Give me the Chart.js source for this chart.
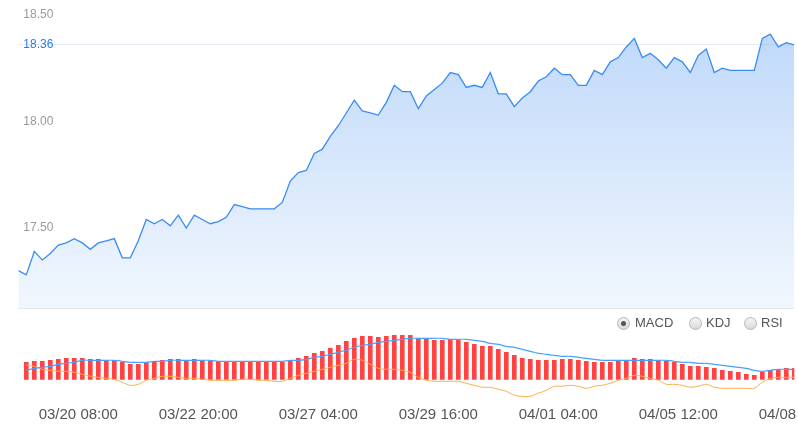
<!DOCTYPE html>
<html>
<head>
<meta charset="utf-8">
<script src="https://cdn.jsdelivr.net/npm/chart.js@4.4.1/dist/chart.umd.min.js"></script>
<style>
  html, body { margin: 0; padding: 0; background: #fff; }
  #wrap { position: relative; width: 798px; height: 428px; overflow: hidden; }
  #kline { position: absolute; left: 0; top: 0; }
  .tab { position: absolute; top: 315px; height: 16px; line-height: 16px; font: 13px 'Liberation Sans', Arial, sans-serif; color: #555; }
  .dot { position: absolute; top: 316.5px; width: 11px; height: 11px; border: 1px solid #b4b4b4; border-radius: 50%; background: linear-gradient(#f6f6f6, #d9d9d9); }
  .dot.on::after { content: ''; position: absolute; left: 3px; top: 3px; width: 5px; height: 5px; border-radius: 50%; background: #555; }
</style>
</head>
<body>
<div id="wrap">
  <canvas id="kline" width="798" height="428"></canvas>
  <span class="dot on" style="left:617px"></span><span class="tab" style="left:635px">MACD</span>
  <span class="dot" style="left:689px"></span><span class="tab" style="left:706px">KDJ</span>
  <span class="dot" style="left:744px"></span><span class="tab" style="left:761px">RSI</span>
</div>
<script>
const xLabels = ['03/20 08:00', '03/22 20:00', '03/27 04:00', '03/29 16:00', '04/01 04:00', '04/05 12:00', '04/08 20:00'];
const xLabelAt = [7.5, 22.5, 37.5, 52.5, 67.5, 82.5, 97.5];

const price = [
  17.30, 17.28, 17.39, 17.35, 17.38, 17.42, 17.43, 17.45, 17.43, 17.40,
  17.43, 17.44, 17.45, 17.36, 17.36, 17.44, 17.54, 17.52, 17.54, 17.51,
  17.56, 17.50, 17.56, 17.54, 17.52, 17.53, 17.55, 17.61, 17.60, 17.59,
  17.59, 17.59, 17.59, 17.62, 17.72, 17.76, 17.77, 17.85, 17.87, 17.93,
  17.98, 18.04, 18.10, 18.05, 18.04, 18.03, 18.09, 18.17, 18.14, 18.14,
  18.06, 18.12, 18.15, 18.18, 18.23, 18.22, 18.16, 18.17, 18.16, 18.23,
  18.13, 18.13, 18.07, 18.11, 18.14, 18.19, 18.21, 18.25, 18.22, 18.22,
  18.17, 18.17, 18.24, 18.22, 18.28, 18.30, 18.35, 18.39, 18.30, 18.32,
  18.29, 18.25, 18.30, 18.28, 18.23, 18.31, 18.34, 18.23, 18.25, 18.24,
  18.24, 18.24, 18.24, 18.39, 18.41, 18.35, 18.37, 18.36
];

// MACD histogram, DIF and DEA (first bar has no value)
const macd = [
  null,
  .017, .018, .018, .019, .020, .021, .021, .021, .020, .020,
  .019, .019, .017, .015, .015, .017, .018, .019, .020, .020,
  .019, .020, .019, .018, .018, .018, .018, .018, .018, .018,
  .018, .017, .017, .019, .021, .023, .026, .028, .031, .034,
  .038, .041, .043, .043, .042, .043, .044, .044, .044, .041,
  .040, .039, .039, .040, .039, .037, .035, .033, .033, .030,
  .027, .024, .021, .020, .019, .019, .019, .020, .020, .019,
  .018, .017, .017, .017, .018, .019, .021, .020, .020, .019,
  .018, .017, .015, .013, .013, .012, .011, .009, .008, .007,
  .005, .004, .007, .009, .010, .011, .011
];
const dif = [
  null,
  .009, .011, .012, .013, .015, .016, .017, .019, .019, .019,
  .019, .019, .018, .017, .017, .017, .018, .018, .019, .019,
  .019, .019, .019, .019, .018, .018, .018, .018, .018, .018,
  .018, .018, .018, .019, .019, .020, .022, .023, .025, .027,
  .029, .032, .034, .035, .037, .038, .039, .040, .041, .041,
  .041, .041, .041, .040, .040, .040, .039, .038, .036, .035,
  .033, .032, .030, .028, .026, .025, .024, .023, .023, .022,
  .021, .020, .019, .019, .019, .019, .019, .019, .019, .019,
  .019, .018, .017, .017, .016, .016, .015, .014, .013, .012,
  .011, .009, .008, .009, .010, .010, .010
];
const dea = [
  null,
  .014, .013, .010, .009, .008, .008, .007, .005, .003, .002,
  .001, .000, -.003, -.006, -.005, -.001, .001, .003, .003, .002,
  .001, .001, .000, -.001, -.001, -.001, -.001, .000, .000, -.001,
  -.001, -.002, -.002, .001, .004, .006, .008, .010, .012, .014,
  .016, .020, .019, .015, .011, .010, .010, .009, .007, .002,
  -.001, -.002, -.002, -.002, -.002, -.004, -.006, -.008, -.008, -.010,
  -.012, -.016, -.017, -.017, -.014, -.011, -.007, -.007, -.006, -.007,
  -.009, -.007, -.006, -.004, -.001, .001, .004, .003, .001, -.001,
  -.005, -.005, -.006, -.008, -.007, -.005, -.008, -.009, -.009, -.009,
  -.009, -.009, -.003, .001, .002, .002, .002
];

const priceTicks = [17.50, 18.00, 18.50];
const lastPrice = price[price.length - 1];

const ctx = document.getElementById('kline');

function pts(arr) {
  return arr.map((v, i) => ({ x: i, y: v }));
}

// scales should not ask the layout for extra room
function noPad(scale) {
  scale.paddingLeft = 0;
  scale.paddingRight = 0;
  scale.paddingTop = 0;
  scale.paddingBottom = 0;
}

function priceFill(c) {
  const chart = c.chart;
  const y = chart.scales.y;
  if (!y || y.bottom === undefined) return 'rgba(64,140,240,0.2)';
  const g = chart.ctx.createLinearGradient(0, y.top, 0, y.bottom);
  g.addColorStop(0, 'rgba(64,140,240,0.36)');
  g.addColorStop(1, 'rgba(64,140,240,0.07)');
  return g;
}

new Chart(ctx, {
  type: 'line',
  data: {
    datasets: [
      { type: 'line', data: pts(price), yAxisID: 'y', borderColor: '#3b8cf0', borderWidth: 1.3,
        pointRadius: 0, fill: 'start', backgroundColor: priceFill, tension: 0, order: 1 },
      { type: 'line', data: pts(dif), yAxisID: 'macd', borderColor: '#45a2ff', borderWidth: 1.2,
        pointRadius: 0, tension: 0.3, order: 2 },
      { type: 'line', data: pts(dea), yAxisID: 'macd', borderColor: '#ffae45', borderWidth: 1,
        pointRadius: 0, tension: 0.3, order: 3 },
      { type: 'bar', data: pts(macd), yAxisID: 'macd', backgroundColor: '#ff4242', barThickness: 4, order: 4 }
    ]
  },
  options: {
    responsive: false,
    animation: false,
    devicePixelRatio: 1,
    layout: { padding: { left: 8.3, right: 3.7, top: 0, bottom: 0.5 } },
    plugins: { legend: { display: false }, tooltip: { enabled: false } },
    scales: {
      x: {
        type: 'linear',
        min: 0,
        max: price.length - 1,
        offset: false,
        grid: { display: false, drawTicks: false, offset: false },
        border: { display: false },
        afterBuildTicks: s => { s.ticks = xLabelAt.map(v => ({ value: v })); },
        afterFit: noPad,
        ticks: {
          autoSkip: false,
          maxRotation: 0,
          padding: 4,
          color: '#555',
          font: { family: "'Liberation Sans', Arial, sans-serif", size: 15 },
          callback: (v, i) => xLabels[i]
        }
      },
      y: {
        type: 'linear',
        position: 'left',
        stack: 'k',
        stackWeight: 308,
        weight: 2,
        min: 17.1244,
        max: 18.5704,
        border: { display: false },
        afterBuildTicks: s => { s.ticks = [s.min, ...priceTicks, lastPrice].sort((a, b) => a - b).map(v => ({ value: v })); },
        afterFit: noPad,
        grid: {
          drawTicks: false,
          color: c => {
            if (!c.tick) return 'rgba(0,0,0,0)';
            if (c.tick.value === lastPrice) return '#ebebf7';
            if (c.tick.value < 17.2) return '#e6e6e6';
            return 'rgba(0,0,0,0)';
          }
        },
        ticks: {
          mirror: true,
          padding: 5,
          autoSkip: false,
          font: { family: "'Liberation Sans', Arial, sans-serif", size: 12 },
          color: c => (c.tick && c.tick.value === lastPrice ? '#1f7fea' : '#9a9a9a'),
          callback: function (v) { return v < 17.2 ? '' : v.toFixed(2); }
        }
      },
      macd: {
        type: 'linear',
        position: 'left',
        stack: 'k',
        stackWeight: 93.5,
        weight: 1,
        min: -0.0222,
        max: 0.0713,
        display: false
      }
    }
  }
});
</script>
</body>
</html>
